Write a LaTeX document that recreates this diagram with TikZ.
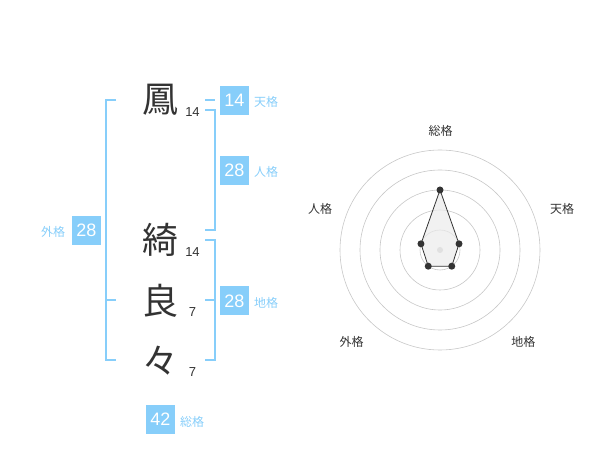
\documentclass[tikz,border=0pt]{standalone}
\usepackage{fontspec}
\setmainfont{Noto Sans CJK JP}
\newfontfamily\numfont{Liberation Sans}
\definecolor{sky}{HTML}{87CEFA}
\definecolor{ink}{HTML}{333333}
\begin{document}
\begin{tikzpicture}[x=1pt,y=-1pt,
  kanji/.style={font=\fontsize{36}{36}\selectfont, text=ink, inner sep=0pt},
  strokes/.style={font=\numfont\fontsize{13}{13}\selectfont, text=ink, inner sep=0pt},
  valbox/.style={fill=sky, text=white, font=\numfont\fontsize{18}{18}\selectfont, minimum size=29pt, inner sep=0pt},
  lbl/.style={text=sky, font=\fontsize{12}{12}\selectfont, inner sep=0pt},
  bracket/.style={draw=sky, line width=2pt},
  ring/.style={draw=black!22, line width=0.6pt},
  axislbl/.style={text=ink, font=\fontsize{12}{12}\selectfont, inner sep=0pt},
  dot/.style={circle, fill=ink, minimum size=7pt, inner sep=0pt}]
\useasboundingbox (0,0) rectangle (600,470);

% characters
\node[kanji] (c1) at (160,100) {鳳};
\node[kanji] (c2) at (160,240) {綺};
\node[kanji] (c3) at (160,301) {良};
\node[kanji] (c4) at (160,361) {々};
\node[strokes] (n1) at (192.5,112.5) {14};
\node[strokes] (n2) at (192.5,252.5) {14};
\node[strokes] (n3) at (192.5,312) {7};
\node[strokes] (n4) at (192.5,372.5) {7};

% brackets
\draw[bracket] (116,100) -- (106,100) -- (106,360) -- (116,360);
\draw[bracket] (106,300) -- (116,300);
\draw[bracket] (205,100) -- (215,100);
\draw[bracket] (205,110) -- (214.5,110) -- (214.5,230) -- (205,230);
\draw[bracket] (205,240) -- (214.5,240) -- (214.5,360) -- (205,360);
\draw[bracket] (205,300) -- (214.5,300);

% value boxes
\node[valbox] (ten) at (234.5,100.5) {14};
\node[lbl] (tenl) at (266,101.5) {天格};
\node[valbox] (jin) at (234.5,170.5) {28};
\node[lbl] (jinl) at (266,172) {人格};
\node[valbox] (chi) at (234.5,301) {28};
\node[lbl] (chil) at (266,303) {地格};
\node[valbox] (gai) at (86.5,230.5) {28};
\node[lbl] (gail) at (53,232) {外格};
\node[valbox] (sou) at (160.5,419.5) {42};
\node[lbl] (soul) at (192,422) {総格};

% radar chart
\coordinate (rc) at (440,250);
\foreach \r in {20,40,60,80,100}
  \draw[ring] (rc) circle[radius=\r pt];
\node[circle, fill=black!22, minimum size=6pt, inner sep=0pt] (cdot) at (rc) {};
\coordinate (p1) at (440,190);
\coordinate (p2) at (459.02,243.82);
\coordinate (p3) at (451.76,266.18);
\coordinate (p4) at (428.24,266.18);
\coordinate (p5) at (420.98,243.82);
\fill[black!8, fill opacity=0.7] (p1) -- (p2) -- (p3) -- (p4) -- (p5) -- cycle;
\draw[ink, line width=0.8pt] (p1) -- (p2) -- (p3) -- (p4) -- (p5) -- cycle;
\foreach \p in {p1,p2,p3,p4,p5}
  \node[dot] at (\p) {};

\node[axislbl] (a1) at (440.7,130.5) {総格};
\node[axislbl] (a2) at (562,208.5) {天格};
\node[axislbl] (a3) at (523.3,341.5) {地格};
\node[axislbl] (a4) at (351.7,341.5) {外格};
\node[axislbl] (a5) at (320,208.5) {人格};
\end{tikzpicture}
\end{document}
